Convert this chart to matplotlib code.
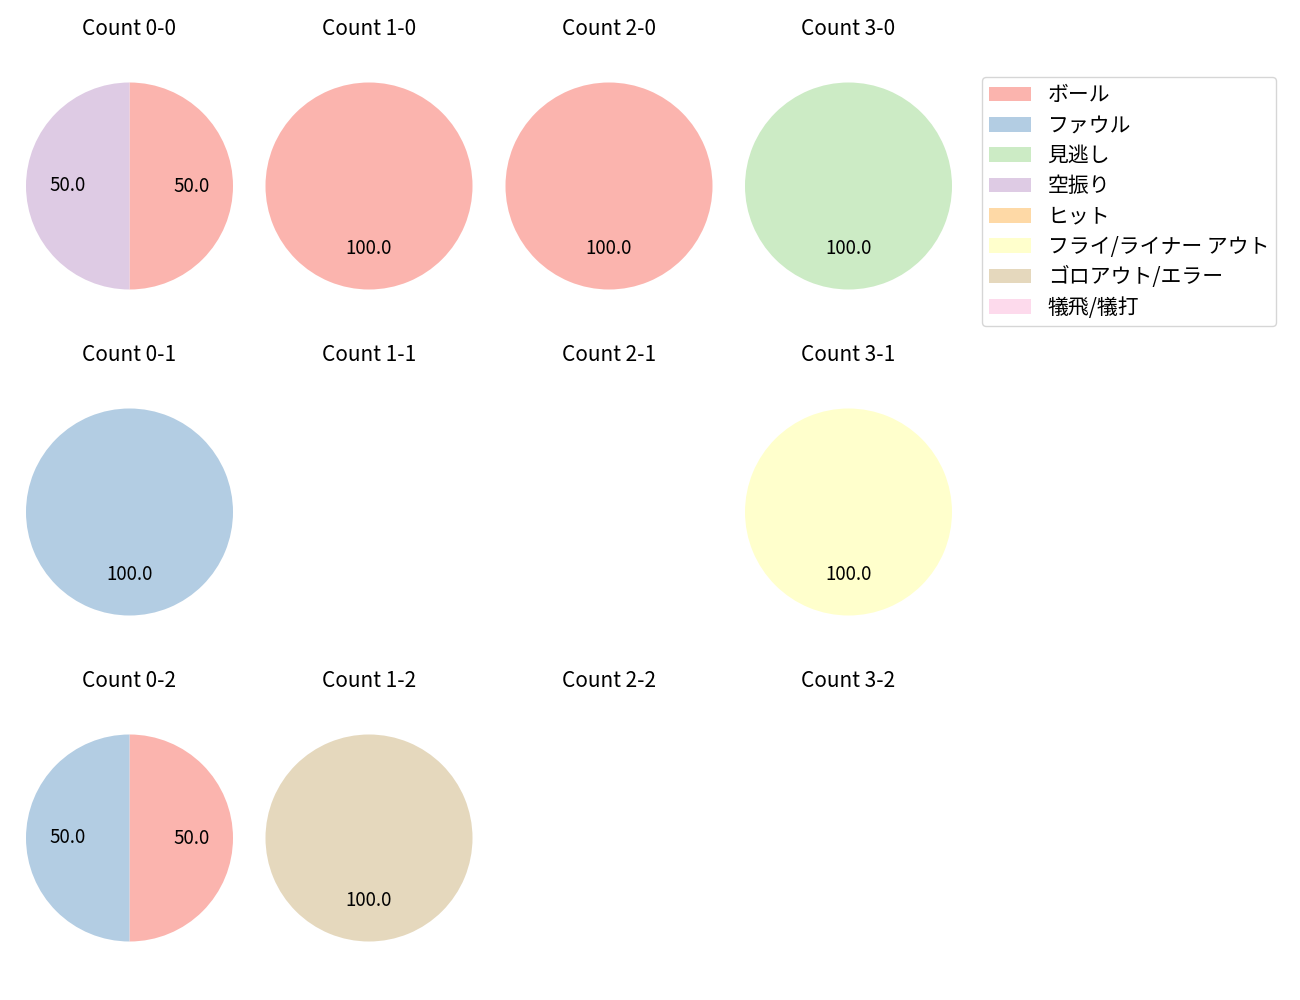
import matplotlib
matplotlib.use('Agg')
import matplotlib.pyplot as plt
from matplotlib.patches import Patch

plt.rcParams['font.family'] = ['Noto Sans CJK JP', 'DejaVu Sans']
plt.rcParams['font.size'] = 12

labels = ['ボール', 'ファウル', '見逃し', '空振り', 'ヒット',
          'フライ/ライナー アウト', 'ゴロアウト/エラー', '犠飛/犠打']
colors = ['#fbb4ae', '#b3cde3', '#ccebc5', '#decbe4', '#fed9a6',
          '#ffffcc', '#e5d8bd', '#fddaec']

# counts per (balls, strikes), values in label order
counts = {
    (0, 0): [1, 0, 0, 1, 0, 0, 0, 0],
    (1, 0): [1, 0, 0, 0, 0, 0, 0, 0],
    (2, 0): [1, 0, 0, 0, 0, 0, 0, 0],
    (3, 0): [0, 0, 1, 0, 0, 0, 0, 0],
    (0, 1): [0, 1, 0, 0, 0, 0, 0, 0],
    (1, 1): [0, 0, 0, 0, 0, 0, 0, 0],
    (2, 1): [0, 0, 0, 0, 0, 0, 0, 0],
    (3, 1): [0, 0, 0, 0, 0, 1, 0, 0],
    (0, 2): [1, 1, 0, 0, 0, 0, 0, 0],
    (1, 2): [0, 0, 0, 0, 0, 0, 1, 0],
    (2, 2): [0, 0, 0, 0, 0, 0, 0, 0],
    (3, 2): [0, 0, 0, 0, 0, 0, 0, 0],
}

W, H = 1300, 1000
fig = plt.figure(figsize=(13, 10), dpi=100)

xc = [129.5, 369, 609, 848.5]
yc = [186, 512, 838]
r = 103.5
side = 2.5 * r

for s in range(3):
    for b in range(4):
        ax = fig.add_axes([(xc[b] - side / 2) / W, 1 - (yc[s] + side / 2) / H,
                           side / W, side / H])
        ax.axis('off')
        vals = counts[(b, s)]
        if sum(vals) > 0:
            nz = [i for i, v in enumerate(vals) if v > 0]
            ax.pie([vals[i] for i in nz], colors=[colors[i] for i in nz],
                   autopct='%.1f', startangle=90, counterclock=False,
                   textprops={'fontsize': 13.5})
        ax.set_xlim(-1.25, 1.25)
        ax.set_ylim(-1.25, 1.25)
        ax.set_aspect('equal')
        ax.set_title(f'Count {b}-{s}', pad=15.5, fontsize=15)

handles = [Patch(facecolor=c, label=l) for c, l in zip(colors, labels)]
fig.legend(handles=handles, loc='upper left',
           bbox_to_anchor=(982 / W, 1 - 77 / H), borderaxespad=0,
           fontsize=15, labelspacing=0.4, borderpad=0.35)

fig.savefig('out.png', dpi=100)
